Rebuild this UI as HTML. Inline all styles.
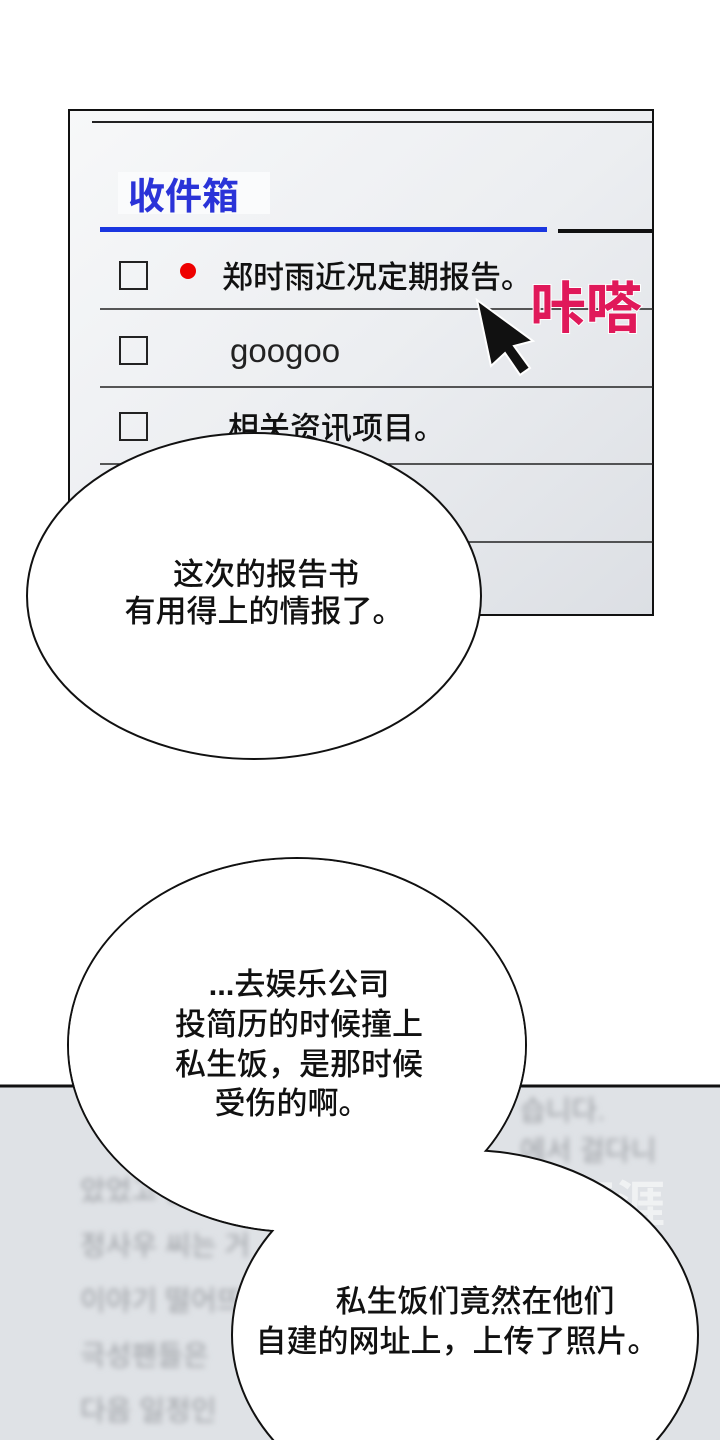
<!DOCTYPE html>
<html><head><meta charset="utf-8"><style>
html,body{margin:0;padding:0;background:#fff;width:720px;height:1440px;overflow:hidden}
svg{display:block}
text{font-family:"Liberation Sans","Noto Sans CJK SC",sans-serif}
.b{font-family:"Noto Sans CJK SC",sans-serif;font-weight:500}
</style></head><body>
<svg width="720" height="1440" viewBox="0 0 720 1440" xmlns="http://www.w3.org/2000/svg">
<defs>
<linearGradient id="g1" x1="0" y1="0" x2="1" y2="1">
<stop offset="0" stop-color="#f7f8f9"/><stop offset="0.5" stop-color="#eceef1"/><stop offset="1" stop-color="#dcdfe4"/>
</linearGradient>
<filter id="bl"><feGaussianBlur stdDeviation="3"/></filter>
</defs>
<rect width="720" height="1440" fill="#fff"/>
<rect x="69" y="110" width="584" height="505" fill="url(#g1)" stroke="#111" stroke-width="2"/>
<line x1="92" y1="122" x2="653" y2="122" stroke="#222" stroke-width="2"/>
<rect x="118" y="172" width="152" height="42" fill="#fafbfc"/>
<text x="128" y="209" font-size="37" font-weight="bold" fill="#2a33d8">收件箱</text>
<rect x="100" y="227" width="447" height="5" fill="#1a36e0"/>
<rect x="558" y="229" width="95" height="4" fill="#111"/>
<g stroke="#222" stroke-width="1.5">
<line x1="100" y1="309" x2="653" y2="309"/><line x1="100" y1="387" x2="653" y2="387"/>
<line x1="100" y1="464" x2="653" y2="464"/><line x1="100" y1="542" x2="653" y2="542"/>
</g>
<g fill="none" stroke="#222" stroke-width="2">
<rect x="120" y="262" width="27" height="27"/><rect x="120" y="337" width="27" height="27"/><rect x="120" y="413" width="27" height="27"/>
</g>
<circle cx="188" cy="271" r="8" fill="#e00"/>
<text x="222" y="288" font-size="31" class="b" fill="#111">郑时雨近况定期报告。</text>
<text x="230" y="362" font-size="33" fill="#222">googoo</text>
<text x="228" y="439" font-size="31" class="b" fill="#111">相关资讯项目。</text>
<path d="M477 300 L533 341 L514 346 L530 368 L520 375 L505 353 L491 366 Z" fill="#111" stroke="#fff" stroke-width="2"/>
<text x="530" y="328" font-size="56" font-weight="bold" fill="#e0195a" stroke="#fff" stroke-width="2" paint-order="stroke">咔嗒</text>
<ellipse cx="254" cy="596" rx="227" ry="163" fill="#fff" stroke="#111" stroke-width="2"/>
<text x="266" y="585" font-size="31" class="b" text-anchor="middle" fill="#111">这次的报告书</text>
<text x="264" y="622" font-size="31" class="b" text-anchor="middle" fill="#111">有用得上的情报了。</text>
<rect x="0" y="1086" width="720" height="354" fill="#dfe2e6"/>
<line x1="0" y1="1086" x2="720" y2="1086" stroke="#111" stroke-width="3"/>
<g filter="url(#bl)" fill="#9a9da2" font-size="28">
<text x="80" y="1200">았었고 올해에는</text>
<text x="80" y="1255">정사우 씨는 거</text>
<text x="80" y="1310">이야기 떨어뜨</text>
<text x="80" y="1365">극성팬들은</text>
<text x="80" y="1420">다음 일정인</text>
<text x="520" y="1120">습니다.</text>
<text x="520" y="1160">에서 걸다니</text>
</g>
<text x="565" y="1222" font-size="50" font-weight="bold" fill="#f4f5f6" opacity="0.85">画涯</text>
<text x="566" y="1250" font-size="20" fill="#f4f5f6">免费漫画</text>
<ellipse cx="297" cy="1045" rx="229" ry="187" fill="#fff" stroke="#111" stroke-width="2"/>
<ellipse cx="465" cy="1335" rx="233" ry="185" fill="#fff" stroke="#111" stroke-width="2"/>
<ellipse cx="297" cy="1045" rx="228" ry="186" fill="#fff"/>
<text x="299" y="995" font-size="31" class="b" text-anchor="middle" fill="#111"><tspan font-family="Liberation Sans" font-weight="bold">...</tspan>去娱乐公司</text>
<text x="299" y="1035" font-size="31" class="b" text-anchor="middle" fill="#111">投简历的时候撞上</text>
<text x="299" y="1075" font-size="31" class="b" text-anchor="middle" fill="#111">私生饭，是那时候</text>
<text x="292" y="1114" font-size="31" class="b" text-anchor="middle" fill="#111">受伤的啊。</text>
<text x="475" y="1312" font-size="31" class="b" text-anchor="middle" fill="#111">私生饭们竟然在他们</text>
<text x="457" y="1352" font-size="31" class="b" text-anchor="middle" fill="#111">自建的网址上，上传了照片。</text>
</svg>
</body></html>
